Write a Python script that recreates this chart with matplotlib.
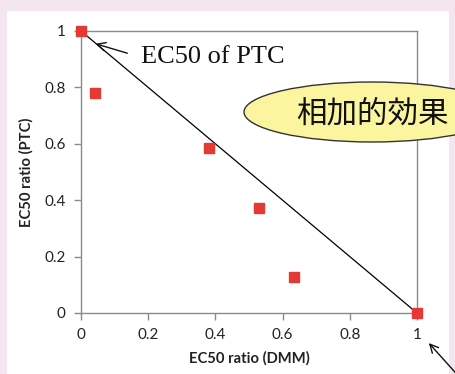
import matplotlib
matplotlib.use("Agg")
import matplotlib.pyplot as plt
from matplotlib.patches import Ellipse, Rectangle, FancyArrowPatch

# EC50 ratios of the mixtures
dmm_ratio = [0.0, 0.042, 0.381, 0.53, 0.634, 1.0]
ptc_ratio = [1.0, 0.78, 0.585, 0.372, 0.128, 0.0]

# additivity line (isobole) end points
iso_x = [0.0, 1.0]
iso_y = [1.0, 0.0]

x_ticks = [0, 0.2, 0.4, 0.6, 0.8, 1]
y_ticks = [0, 0.2, 0.4, 0.6, 0.8, 1]
x_tick_labels = ["0", "0.2", "0.4", "0.6", "0.8", "1"]
y_tick_labels = ["0", "0.2", "0.4", "0.6", "0.8", "1"]

W, H = 456, 374
fig = plt.figure(figsize=(W / 100, H / 100), dpi=100)
fig.patch.set_facecolor("#f4e6ee")

# white slide panel
fig.add_artist(Rectangle((7 / W, 0), 442 / W, 1 - 11 / H,
                         transform=fig.transFigure, facecolor="white",
                         edgecolor="none", zorder=0))

ax = fig.add_axes([81 / W, 1 - 313 / H, 336 / W, 282 / H])
ax.set_facecolor("none")
ax.plot(iso_x, iso_y, color="black", lw=0.9, zorder=2)
ax.plot(dmm_ratio, ptc_ratio, ls="none", marker="s", ms=7.8,
        color="#e53935", mec="#e53935", clip_on=False, zorder=3)

ax.set_xlim(0, 1)
ax.set_ylim(0, 1)
ax.set_xticks(x_ticks)
ax.set_xticklabels(x_tick_labels)
ax.set_yticks(y_ticks)
ax.set_yticklabels(y_tick_labels)
for s in ax.spines.values():
    s.set_color("#8a8a8a")
    s.set_linewidth(1.0)
ax.tick_params(axis="both", colors="#8a8a8a", labelcolor="#222222",
               length=5, width=1.0, labelsize=11, pad=6)
for lab in ax.get_xticklabels() + ax.get_yticklabels():
    lab.set_fontfamily("Lato")

ax.set_xlabel("EC50 ratio (DMM)", fontsize=10.6, fontweight="bold",
              fontfamily="Lato", color="#222222", labelpad=6)
ax.set_ylabel("EC50 ratio (PTC)", fontsize=10.6, fontweight="bold",
              fontfamily="Lato", color="#222222", labelpad=8)

# label for the PTC end point
fig.text(141 / W, 1 - 57 / H, "EC50 of PTC", fontsize=19,
         fontfamily="Liberation Serif", color="#111111",
         ha="left", va="center")
fig.add_artist(FancyArrowPatch((130 / W, 1 - 54 / H), (93 / W, 1 - 43 / H),
                               transform=fig.transFigure,
                               arrowstyle="->,head_length=6,head_width=3",
                               color="#111111", lw=1.0))

# callout bubble
fig.add_artist(Ellipse((372 / W, 1 - 112 / H), 256 / W, 60 / H,
                       transform=fig.transFigure, facecolor="#faf59e",
                       edgecolor="#333333", lw=1.0, zorder=5))
fig.text(372 / W, 1 - 114 / H, "相加的効果", fontsize=22,
         fontfamily=["Noto Sans CJK JP", "DejaVu Sans"], color="#111111",
         ha="center", va="center", zorder=6)

# arrow pointing at the DMM end point
fig.add_artist(FancyArrowPatch((462 / W, 1 - 380 / H), (427 / W, 1 - 341 / H),
                               transform=fig.transFigure,
                               arrowstyle="->,head_length=6,head_width=3",
                               color="#111111", lw=1.0))

fig.savefig("out.png", dpi=100, facecolor=fig.get_facecolor())
